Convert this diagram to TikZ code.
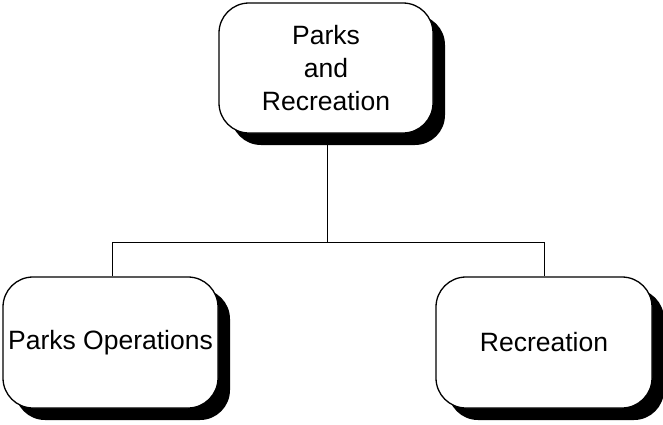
\documentclass[tikz,border=0pt]{standalone}
\usepackage{fontspec}
\setmainfont{Liberation Sans}
\usetikzlibrary{shadows,backgrounds}
\begin{document}
\begin{tikzpicture}[x=1pt,y=-1pt,
  unit/.style={draw=black, line width=1.3pt, fill=white, rounded corners=30pt,
    general shadow={fill=black, shadow xshift=12pt, shadow yshift=-12pt},
    align=center, font=\fontsize{26.5}{33}\selectfont, inner sep=0pt},
  link/.style={draw=black, line width=0.8pt}]
\useasboundingbox (0,0) rectangle (663,424);
\node[unit, minimum width=214pt, minimum height=130pt] (top) at (326,68) {Parks\\and\\Recreation};
\node[unit, minimum width=215pt, minimum height=131pt] (ops) at (110.5,342.5) {Parks Operations};
\node[unit, minimum width=216pt, minimum height=131pt] (rec) at (544,342.5) {Recreation};
\coordinate (mid) at (327,242);
\begin{pgfonlayer}{background}
\draw[link] (top.south -| mid) -- (mid);
\draw[link] (ops.north) ++(1.5,0) coordinate (opsn) -- (opsn |- mid) -- (rec.north |- mid) -- (rec.north);
\end{pgfonlayer}
\end{tikzpicture}
\end{document}
